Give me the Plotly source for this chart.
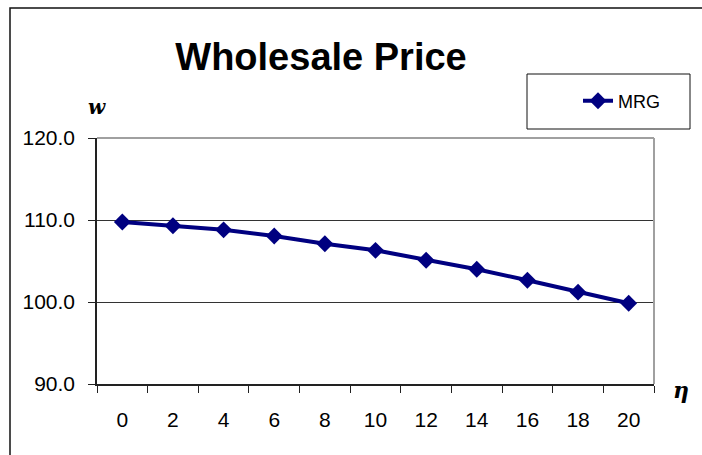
import plotly.graph_objects as go

categories = ["0", "2", "4", "6", "8", "10", "12", "14", "16", "18", "20"]
mrg_values = [109.75, 109.3, 108.8, 108.05, 107.1, 106.3, 105.1, 104.0, 102.65, 101.2, 99.85]
y_ticks = [90, 100, 110, 120]

W, H = 702, 455
L, R, T, B = 97, 654, 138, 384

def px(x):
    return (x - L) / (R - L)

def py(y):
    return (B - y) / (B - T)

fig = go.Figure()
fig.add_trace(go.Scatter(
    x=categories, y=mrg_values, name="MRG", mode="lines+markers",
    line=dict(color="#000080", width=4),
    marker=dict(symbol="diamond", size=13, color="#000080"),
))

font = "Liberation Sans, Arial, sans-serif"
fig.update_layout(
    width=W, height=H,
    margin=dict(l=L, r=W - R, t=T, b=H - B, pad=0),
    paper_bgcolor="white", plot_bgcolor="white",
    font=dict(family=font, size=21, color="black"),
    showlegend=True,
    legend=dict(x=px(578), y=py(101), xanchor="left", yanchor="middle",
                xref="paper", yref="paper",
                bgcolor="rgba(0,0,0,0)", borderwidth=0,
                font=dict(size=18, family=font)),
    title=dict(text="<b>Wholesale Price</b>", x=321 / W, xref="container", xanchor="center",
               y=1 - 57 / H, yref="container", yanchor="middle",
               font=dict(size=38, family=font, color="black")),
    xaxis=dict(type="category", range=[-0.5, 10.5], tickson="boundaries",
               ticks="outside", ticklen=7, tickcolor="#222", tickwidth=1,
               showline=True, linecolor="#222", linewidth=1.5,
               showgrid=False, zeroline=False, ticklabelstandoff=16),
    yaxis=dict(range=[90, 120], tickvals=y_ticks, tickformat=".1f",
               ticks="outside", ticklen=7, tickcolor="#222", tickwidth=1,
               showline=True, linecolor="#222", linewidth=1.5,
               showgrid=True, gridcolor="#333", gridwidth=1,
               zeroline=False, ticklabelstandoff=9),
    shapes=[
        dict(type="line", xref="paper", yref="paper", x0=0, x1=1, y0=1, y1=1,
             line=dict(color="#a0a0a0", width=2), layer="above"),
        dict(type="line", xref="paper", yref="paper", x0=1, x1=1, y0=0, y1=1,
             line=dict(color="#a0a0a0", width=2), layer="above"),
        dict(type="rect", xref="paper", yref="paper", x0=px(10), x1=px(760),
             y0=py(520), y1=py(8), line=dict(color="#111", width=1.5)),
        dict(type="rect", xref="paper", yref="paper", x0=px(527), x1=px(690),
             y0=py(129), y1=py(74), line=dict(color="#111", width=1)),
    ],
    annotations=[
        dict(text="<b><i>w</i></b>", xref="paper", yref="paper", x=px(97), y=py(107),
             showarrow=False, xanchor="center", yanchor="middle",
             font=dict(family="DejaVu Serif, serif", size=20, color="black")),
        dict(text="<b><i>η</i></b>", xref="paper", yref="paper", x=px(681), y=py(390),
             showarrow=False, xanchor="center", yanchor="middle",
             font=dict(family="DejaVu Serif, serif", size=22, color="black")),
    ],
)

fig.write_html("out.html", config={"displayModeBar": False},
               post_script="document.body.style.margin='0';")
